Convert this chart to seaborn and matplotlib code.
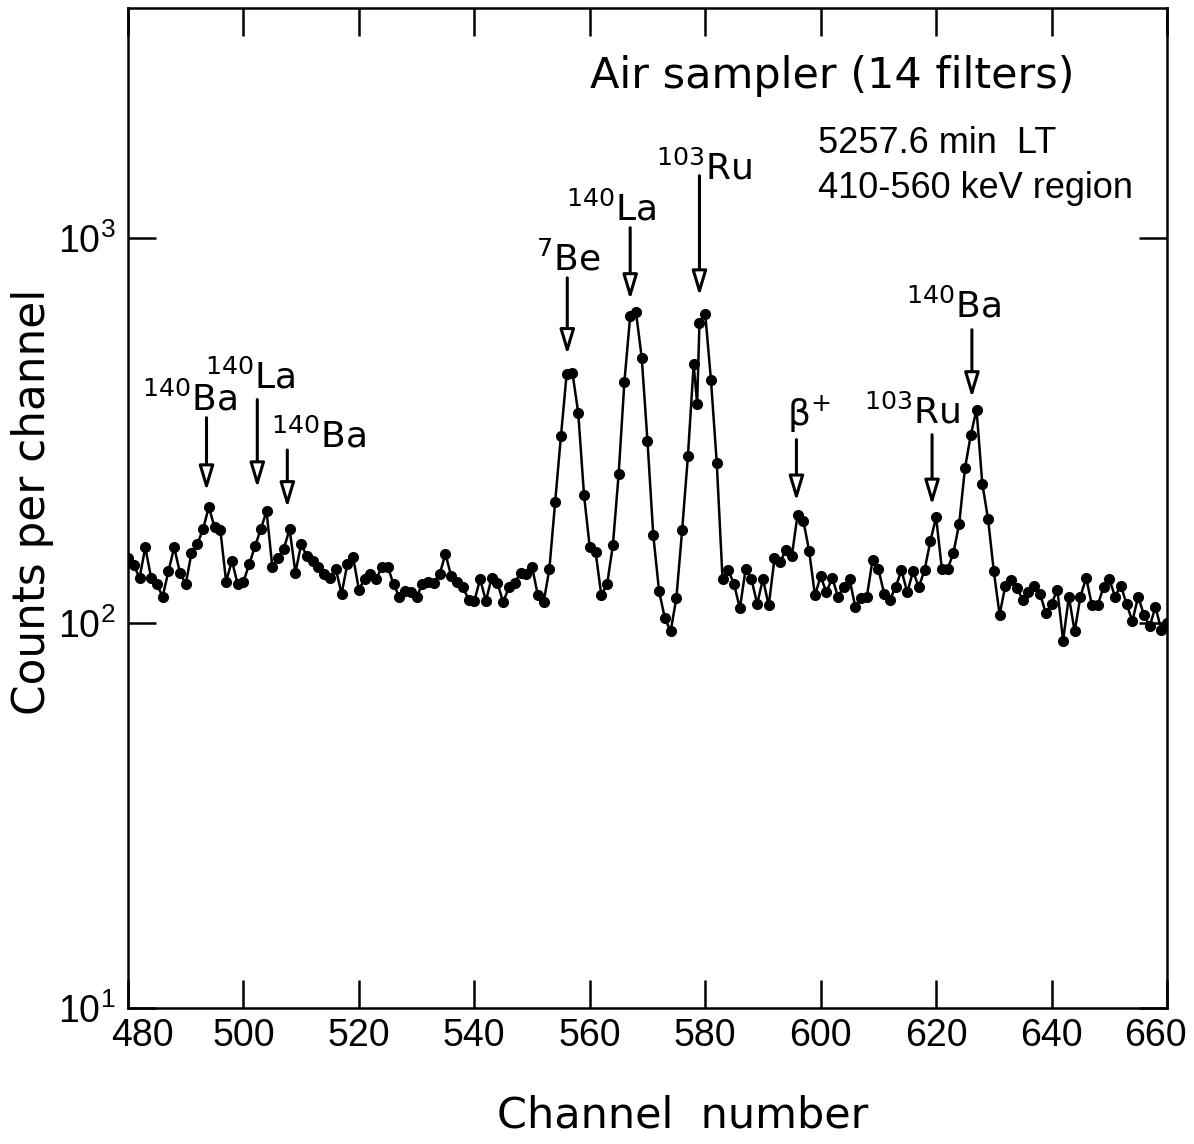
import numpy as np
import pandas as pd
import matplotlib
matplotlib.use("Agg")
import matplotlib.pyplot as plt
import matplotlib.transforms as mtrans
import seaborn as sns
from matplotlib.ticker import FixedLocator, FixedFormatter, NullLocator

# ---------------- data ----------------
channels = list(range(480, 579)) + [578.6] + list(range(579, 661))
counts = [
    147, 141, 131, 157, 131, 126, 117, 136, 157, 135,   # 480-489
    126, 152, 160, 175, 200, 177, 174, 128, 145, 126,   # 490-499
    128, 142, 158, 175, 195, 140, 147, 156, 175, 135,   # 500-509
    160, 149, 145, 140, 134, 131, 138, 119, 142, 148,   # 510-519
    122, 130, 134, 130, 140, 140, 126, 117, 121, 120,   # 520-529
    117, 126, 128, 127, 134, 151, 132, 128, 124, 115,   # 530-539
    114, 130, 114, 131, 127, 113, 124, 127, 135, 134,   # 540-549
    140, 118, 113, 138, 206, 305, 444, 446, 351, 215,   # 550-559
    157, 153, 118, 126, 159, 243, 423, 626, 642, 488,   # 560-569
    296, 169, 121, 103, 95, 116, 174, 271, 469,         # 570-578
    371,                                                # 578.6
    601, 635, 426, 260, 130, 137, 126, 109, 138, 130, 112,  # 579-589
    130, 111, 147, 144, 155, 149, 191, 184, 154, 118,   # 590-599
    132, 120, 131, 117, 124, 130, 110, 116, 117, 146,   # 600-609
    138, 119, 115, 124, 137, 120, 136, 124, 137, 163,   # 610-619
    188, 138, 138, 152, 181, 252, 307, 358, 230, 186,   # 620-629
    136, 105, 125, 129, 123, 115, 120, 125, 119, 106,   # 630-639
    112, 122, 90, 117, 95, 117, 131, 111, 111, 124,     # 640-649
    130, 117, 125, 112, 101, 117, 105, 98, 110, 96, 100 # 650-660
]

x_ticks = [480, 500, 520, 540, 560, 580, 600, 620, 640, 660]
y_ticks = [10, 100, 1000]
y_tick_labels = [r"$10^{1}$", r"$10^{2}$", r"$10^{3}$"]

peak_labels = [r"$^{140}$Ba", r"$^{140}$La", r"$^{140}$Ba", r"$^{7}$Be",
               r"$^{140}$La", r"$^{103}$Ru", r"$\beta^{+}$", r"$^{103}$Ru",
               r"$^{140}$Ba"]
arrow_channels = [493.6, 502.4, 507.6, 556.1, 567.0, 579.0, 595.8, 619.3, 626.2]
arrow_tails = [341, 380, 281, 787, 1062, 1449, 299, 308, 577]
arrow_tips = [220, 224, 199, 497, 690, 706, 207, 202, 384]
label_x = [482.5, 493.3, 504.7, 550.7, 555.9, 571.5, 594.2, 607.5, 614.8]
label_y = [356, 406, 285, 820, 1107, 1417, 325, 330, 620]

# ---------------- style ----------------
sns.set_style("ticks")
tick_font = "Liberation Sans"
plt.rcParams["font.family"] = [tick_font, "DejaVu Sans"]
plt.rcParams["mathtext.default"] = "regular"
for k in ["text.color", "axes.labelcolor", "xtick.color", "ytick.color", "axes.edgecolor"]:
    plt.rcParams[k] = "black"
main_font = ["DejaVu Sans"]

fig = plt.figure(figsize=(11.94, 11.44), dpi=100)
fig.patch.set_facecolor("white")
W, H = 1194, 1144
ax = fig.add_axes([128 / W, 1 - 1008 / H, (1167 - 128) / W, (1008 - 8) / H])
ax.set_facecolor("white")

df = pd.DataFrame({"channel": channels, "counts": counts})
sns.lineplot(data=df, x="channel", y="counts", ax=ax, estimator=None, sort=False,
             color="black", lw=1.8, marker="o", markersize=7,
             markerfacecolor="black", markeredgecolor="black", markeredgewidth=1.0)

ax.set_yscale("log")
ax.set_xlim(480, 660)
ax.set_ylim(10, 3950)
ax.xaxis.set_major_locator(FixedLocator(x_ticks))
ax.yaxis.set_major_locator(FixedLocator(y_ticks))
ax.yaxis.set_major_formatter(FixedFormatter(y_tick_labels))
ax.yaxis.set_minor_locator(NullLocator())
ax.xaxis.set_minor_locator(NullLocator())
ax.tick_params(direction="in", length=20, width=1.8, top=True, right=True,
               labelsize=27, pad=7, colors="black")
ax.tick_params(axis="y", pad=9)
for sp in ax.spines.values():
    sp.set_linewidth(1.8)
    sp.set_color("black")
ax.set_xlabel("")
ax.set_ylabel("")

# nudge first/last x tick labels inward as in the reference
fig.canvas.draw()
xlabels = ax.get_xticklabels()
xlabels[0].set_transform(xlabels[0].get_transform() +
                         mtrans.ScaledTranslation(14 / 100, 0, fig.dpi_scale_trans))
xlabels[-1].set_transform(xlabels[-1].get_transform() +
                          mtrans.ScaledTranslation(-12 / 100, 0, fig.dpi_scale_trans))

# annotations
for lab, xc, yt, yh, lx, ly in zip(peak_labels, arrow_channels, arrow_tails,
                                   arrow_tips, label_x, label_y):
    ax.annotate("", xy=(xc, yh), xytext=(xc, yt),
                arrowprops=dict(arrowstyle="-|>,head_length=1.5,head_width=0.45",
                                lw=2.2, fc="white", ec="black",
                                shrinkA=0, shrinkB=0))
    ax.text(lx, ly, lab, fontsize=26, family=main_font, ha="left",
            va="baseline", color="black")

fig.text(832 / W, 1 - 88 / H, "Air sampler (14 filters)", fontsize=31,
         family=main_font, ha="center", va="baseline", color="black")
fig.text(818 / W, 1 - 153 / H, "5257.6 min  LT", fontsize=26,
         family=[tick_font], ha="left", va="baseline", color="black")
fig.text(818 / W, 1 - 198 / H, "410-560 keV region", fontsize=26,
         family=[tick_font], ha="left", va="baseline", color="black")
fig.text(33 / W, 1 - 502 / H, "Counts per channel", fontsize=31.5, rotation=90,
         family=main_font, ha="center", va="center", color="black")
fig.text(683 / W, 1 - 1116 / H, "Channel  number", fontsize=31,
         family=main_font, ha="center", va="center", color="black")

fig.savefig("out.png", dpi=100, facecolor="white")
